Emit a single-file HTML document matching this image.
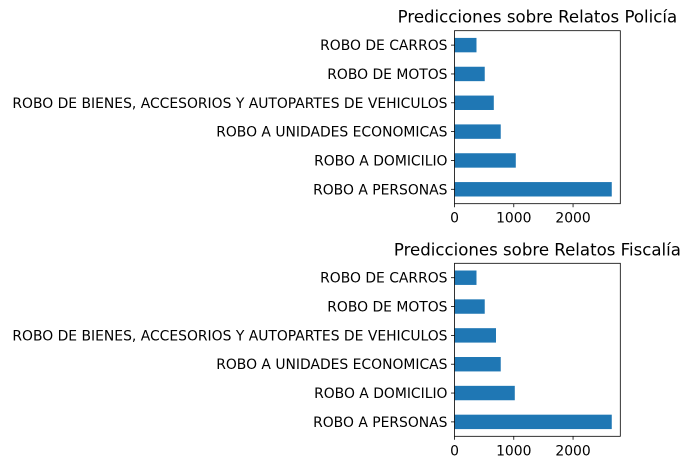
<!DOCTYPE html>
<html><head><meta charset="utf-8"><style>
html,body{margin:0;padding:0;background:#fff;}
svg text{font-family:"DejaVu Sans","Liberation Sans",sans-serif;fill:#000;}
</style></head><body>
<svg id="chart" width="691" height="470" xmlns="http://www.w3.org/2000/svg"></svg>
<script>
const categories = ["ROBO DE CARROS","ROBO DE MOTOS","ROBO DE BIENES, ACCESORIOS Y AUTOPARTES DE VEHICULOS","ROBO A UNIDADES ECONOMICAS","ROBO A DOMICILIO","ROBO A PERSONAS"];
const policiaValues = [371, 510, 663, 780, 1034, 2653];
const fiscaliaValues = [371, 510, 700, 780, 1017, 2653];
const titles = ["Predicciones sobre Relatos Policía","Predicciones sobre Relatos Fiscalía"];
const xTicks = [0, 1000, 2000];
const xMax = 2797;

const NS = "http://www.w3.org/2000/svg";
const svg = document.getElementById('chart');
function mk(tag, attrs, parent){const e=document.createElementNS(NS,tag);for(const k in attrs)e.setAttribute(k,attrs[k]);(parent||svg).appendChild(e);return e;}

function drawPanel(idx, values, top, bottom, name){
  const left=454.5, right=620.3;
  const g = mk('g',{});
  
  
  const xs = v => left + v/xMax*(right-left);
  const n = categories.length;
  const step = (bottom-top)/n;
  const yc = i => top + step*(i+0.5);
  const t = mk('text',{x:(left+right)/2,y:top-8,'text-anchor':'middle','font-size':'16.6'},g);
  t.textContent = titles[idx];
  
  
  values.forEach((v,i)=>{
    const b = mk('rect',{x:left,y:yc(i)-step*0.25,width:xs(v)-left,height:step*0.5,fill:'#1f77b4'},g);
    
    
    mk('line',{x1:left-3.5,x2:left,y1:yc(i),y2:yc(i),stroke:'#000','stroke-width':0.8},g);
    const l = mk('text',{x:left-7,y:yc(i)+5,'text-anchor':'end','font-size':'13.9'},g);
    l.textContent = categories[i];
    
    
  });
  xTicks.forEach(v=>{
    mk('line',{x1:xs(v),x2:xs(v),y1:bottom,y2:bottom+3.5,stroke:'#000','stroke-width':0.8},g);
    const l = mk('text',{x:xs(v),y:bottom+19,'text-anchor':'middle','font-size':'13.9'},g);
    l.textContent = v;
    
    
  });
  const f = mk('rect',{x:left,y:top,width:right-left,height:bottom-top,fill:'none',stroke:'#000','stroke-width':0.8},g);
  
  
}
drawPanel(0, policiaValues, 30.7, 203.7, 'policia-panel');
drawPanel(1, fiscaliaValues, 263.3, 436.3, 'fiscalia-panel');
</script>
</body></html>
